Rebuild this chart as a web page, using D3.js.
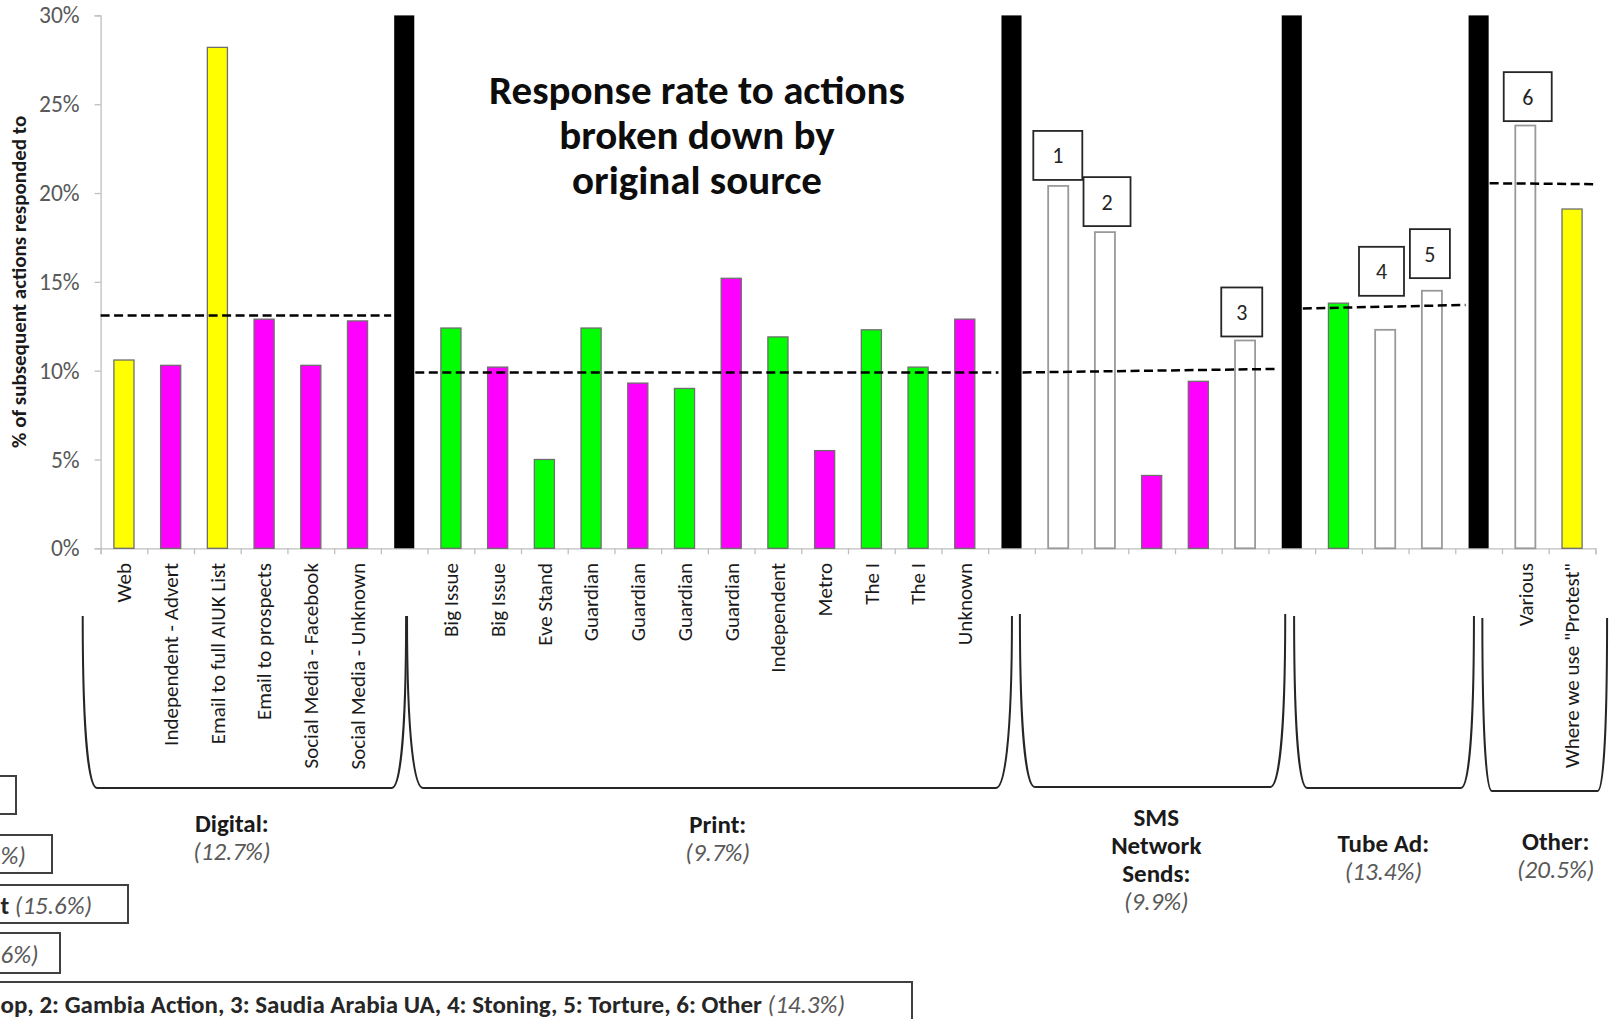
<!DOCTYPE html>
<html>
<head>
<meta charset="utf-8">
<script src="https://cdn.jsdelivr.net/npm/d3@7"></script>
<style>
  html, body { margin: 0; padding: 0; background: #fff; }
  svg { display: block; font-family: Calibri, Carlito, Lato, sans-serif; }
</style>
</head>
<body>
<svg id="chart" width="1610" height="1019"></svg>
<script>
// ---- data -------------------------------------------------------------
// one entry per slot on the x axis; "" marks a group separator
const categories = [
  "Web", "Independent - Advert", "Email to full AIUK List", "Email to prospects",
  "Social Media - Facebook", "Social Media - Unknown", "",
  "Big Issue", "Big Issue", "Eve Stand", "Guardian", "Guardian", "Guardian",
  "Guardian", "Independent", "Metro", "The I", "The I", "Unknown", "",
  "", "", "", "", "", "",
  "", "", "", "",
  "Various", "Where we use \"Protest\""
];
// % of subsequent actions responded to (separators span the full axis)
const values = [
  10.6, 10.3, 28.2, 12.9, 10.3, 12.8, 30,
  12.4, 10.2, 5.0, 12.4, 9.3, 9.0, 15.2, 11.9, 5.5, 12.3, 10.2, 12.9, 30,
  20.4, 17.8, 4.1, 9.4, 11.7, 30,
  13.8, 12.3, 14.5, 30,
  23.8, 19.1
];
const kinds = [
  "yellow", "magenta", "yellow", "magenta", "magenta", "magenta", "sep",
  "green", "magenta", "green", "green", "magenta", "green", "magenta", "green",
  "magenta", "green", "green", "magenta", "sep",
  "white", "white", "magenta", "magenta", "white", "sep",
  "green", "white", "white", "sep",
  "white", "yellow"
];

const yTickValues = [0, 5, 10, 15, 20, 25, 30];
const yTickLabels = ["0%", "5%", "10%", "15%", "20%", "25%", "30%"];

const groupTitleLines = [["Digital:"], ["Print:"], ["SMS", "Network", "Sends:"], ["Tube Ad:"], ["Other:"]];
const groupRates = [12.7, 9.7, 9.9, 13.4, 20.5];
const groupSlots = [[0, 5], [7, 18], [20, 24], [26, 28], [30, 31]];
// dashed average line level at the left and right end of each group
const groupAvgStart = [13.1, 9.9, 9.9, 13.5, 20.55];
const groupAvgEnd = [13.1, 9.9, 10.1, 13.7, 20.5];

const calloutNumbers = [1, 2, 3, 4, 5, 6];
const calloutSlots = [20, 21, 24, 27, 28, 30];

const legendMain = ["", "", "t ", "", "op, 2: Gambia Action, 3: Saudia Arabia UA, 4: Stoning, 5: Torture, 6: Other "];
const legendRate = ["", "%)", "(15.6%)", "6%)", "(14.3%)"];

// ---- layout -----------------------------------------------------------
const plot = { left: 100.6, right: 1595.4, top: 15.4, bottom: 548.3 };
const fills = { yellow: "#ffff00", magenta: "#ff00ff", green: "#00ff00", white: "#ffffff", sep: "#000000" };

const svg = d3.select("#chart");

const x = d3.scaleBand().domain(d3.range(categories.length))
  .range([plot.left, plot.right]).paddingInner(0).paddingOuter(0);
const slot = d3.scaleLinear().domain([0, categories.length]).range([plot.left, plot.right]);
const y = d3.scaleLinear().domain([0, 30]).range([plot.bottom, plot.top]);
const barW = x.bandwidth() * 0.43;
const cx = i => x(i) + x.bandwidth() / 2;

// ---- axes ---------------------------------------------------------------
const yAxis = svg.append("g").attr("transform", `translate(${plot.left},0)`)
  .call(d3.axisLeft(y).tickValues(yTickValues).tickSize(6)
    .tickFormat((d, i) => yTickLabels[i]));
yAxis.select(".domain").attr("stroke", "#bfbfbf").attr("stroke-width", 1.3);
yAxis.selectAll(".tick line").attr("stroke", "#bfbfbf").attr("stroke-width", 1.3);
yAxis.selectAll(".tick text").attr("x", -21).attr("fill", "#595959")
  .style("font-size", "23.5px").style("font-family", "Calibri, Carlito, Lato, sans-serif");

const xAxis = svg.append("g").attr("transform", `translate(0,${plot.bottom})`)
  .call(d3.axisBottom(slot).tickValues(d3.range(categories.length + 1)).tickSize(6).tickFormat(""));
xAxis.select(".domain").attr("stroke", "#bfbfbf").attr("stroke-width", 1.3);
xAxis.selectAll(".tick line").attr("stroke", "#bfbfbf").attr("stroke-width", 1.3);

svg.append("text")
  .attr("transform", `translate(26,${(plot.top + plot.bottom) / 2}) rotate(-90)`)
  .attr("text-anchor", "middle").attr("font-weight", "bold")
  .attr("fill", "#1a1a1a").style("font-size", "21px")
  .text("% of subsequent actions responded to");

// ---- bars ---------------------------------------------------------------
const idx = d3.range(categories.length);
svg.append("g").selectAll("rect").data(idx).join("rect")
  .attr("x", i => cx(i) - barW / 2)
  .attr("y", i => y(values[i]))
  .attr("width", barW)
  .attr("height", i => y(0) - y(values[i]))
  .attr("fill", i => fills[kinds[i]])
  .attr("stroke", i => kinds[i] === "sep" ? "none" : (kinds[i] === "white" ? "#9a9a9a" : "#6e6e6e"))
  .attr("stroke-width", i => kinds[i] === "white" ? 1.8 : 1.3);

// category labels
svg.append("g").selectAll("text").data(idx.filter(i => categories[i] !== "")).join("text")
  .attr("transform", i => `translate(${cx(i)},563) rotate(-90)`)
  .attr("dy", "0.35em").attr("text-anchor", "end")
  .attr("fill", "#1a1a1a").style("font-size", "21px")
  .text(i => categories[i]);

// ---- group average lines -----------------------------------------------
const sepIdx = idx.filter(i => kinds[i] === "sep");
groupSlots.forEach(([a, b], g) => {
  const prevSep = sepIdx.filter(s => s < a).pop();
  const nextSep = sepIdx.find(s => s > b);
  const x0 = prevSep === undefined ? plot.left : cx(prevSep) + barW / 2 + 1;
  const x1 = nextSep === undefined ? plot.right : cx(nextSep) - barW / 2 - 3;
  svg.append("line")
    .attr("x1", x0).attr("x2", x1)
    .attr("y1", y(groupAvgStart[g])).attr("y2", y(groupAvgEnd[g]))
    .attr("stroke", "#000").attr("stroke-width", 2.5)
    .attr("stroke-dasharray", "9,4.5");
});

// ---- numbered callouts -------------------------------------------------
const calloutW = [49, 47, 41, 45, 40, 48];
const calloutLift = [6, 6, 4, 34, 12.6, 4.4];
const calloutShift = [-0.4, 2.1, -3.3, -3.7, -2, 2.4];
const calloutH = 49;
calloutNumbers.forEach((n, k) => {
  const s = calloutSlots[k];
  const bx = cx(s) + calloutShift[k];
  const by = y(values[s]) - calloutLift[k] - calloutH;
  svg.append("rect")
    .attr("x", bx - calloutW[k] / 2).attr("y", by)
    .attr("width", calloutW[k]).attr("height", calloutH)
    .attr("fill", "#fff").attr("stroke", "#262626").attr("stroke-width", 1.8);
  svg.append("text")
    .attr("x", bx).attr("y", by + calloutH / 2).attr("dy", "0.36em")
    .attr("text-anchor", "middle").attr("fill", "#262626").style("font-size", "22px")
    .text(n);
});

// ---- title ---------------------------------------------------------------
const title = svg.append("text").attr("text-anchor", "middle")
  .attr("font-weight", "bold").attr("fill", "#0d0d0d").style("font-size", "41px");
["Response rate to actions", "broken down by", "original source"].forEach((t, i) => {
  title.append("tspan").attr("x", 697).attr("y", 104 + i * 45).text(t);
});

// ---- group brackets --------------------------------------------------
// [left, right] in slot units, top, bottom, corner inset
const brackets = [
  [-0.383, 6.54, 616, 788, 14.3],
  [6.56, 19.51, 616, 788, 16],
  [19.68, 25.36, 614, 787, 15],
  [25.55, 29.40, 616, 788, 13],
  [29.58, 32.25, 618, 791, 9.5]
];
brackets.forEach(([l, r, yT, yB, d]) => {
  const xl = slot(l), xr = slot(r), h = yB - yT;
  const p = d3.path();
  p.moveTo(xl, yT);
  p.bezierCurveTo(xl, yT + 0.75 * h, xl + 0.5 * d, yB, xl + d, yB);
  p.lineTo(xr - d, yB);
  p.bezierCurveTo(xr - 0.5 * d, yB, xr, yT + 0.75 * h, xr, yT);
  svg.append("path").attr("d", p.toString())
    .attr("fill", "none").attr("stroke", "#262626").attr("stroke-width", 2);
});

// group names and overall rates
const groupLabelPos = [[2.81, 832], [13.21, 833], [22.6, 826], [27.46, 852], [31.15, 850]];
groupTitleLines.forEach((lines, g) => {
  const [u, y0] = groupLabelPos[g];
  const t = svg.append("text").attr("text-anchor", "middle").style("font-size", "25px");
  lines.forEach((ln, i) => {
    t.append("tspan").attr("x", slot(u)).attr("y", y0 + i * 28)
      .attr("font-weight", "bold").attr("fill", "#1a1a1a").text(ln);
  });
  t.append("tspan").attr("x", slot(u)).attr("y", y0 + lines.length * 28)
    .attr("font-style", "italic").attr("fill", "#595959")
    .text(`(${groupRates[g]}%)`);
});

// ---- key boxes -----------------------------------------------------------
const legendBox = [[776, 814, 16], [835, 873, 52], [885, 923, 128], [933, 973, 60], [982, 1030, 912]];
const legendTextStart = [0, 0.5, 0.5, 0.5, 0.5];
const legendBaseline = [0, 864, 914, 963, 1013];
legendBox.forEach(([t, b, r], k) => {
  svg.append("rect").attr("x", -600).attr("y", t).attr("width", r + 600).attr("height", b - t)
    .attr("fill", "#fff").attr("stroke", "#404040").attr("stroke-width", 2);
  if (legendMain[k] === "" && legendRate[k] === "") return;
  const tx = svg.append("text").attr("x", legendTextStart[k]).attr("y", legendBaseline[k])
    .style("font-size", "25px");
  tx.append("tspan").attr("font-weight", "bold").attr("fill", "#262626").text(legendMain[k]);
  tx.append("tspan").attr("font-style", "italic").attr("fill", "#595959").text(legendRate[k]);
});
</script>
</body>
</html>
